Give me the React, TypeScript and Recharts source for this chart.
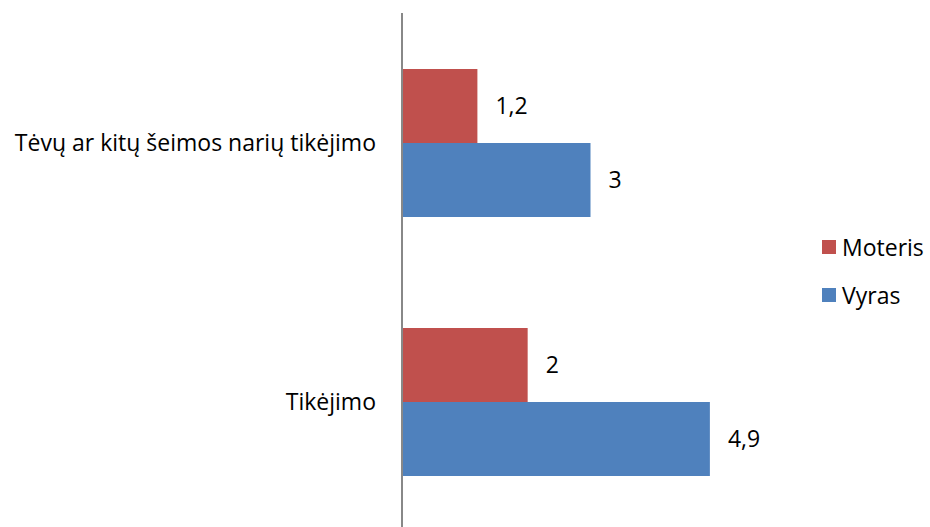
import { BarChart, Bar, XAxis, YAxis, LabelList } from "recharts";

const categories = ["Tėvų ar kitų šeimos narių tikėjimo", "Tikėjimo"];
const moteris = [1.2, 2];
const vyras = [3, 4.9];
const seriesNames = ["Moteris", "Vyras"];
const seriesColors = ["#C0504D", "#4F81BD"];

const data = categories.map((name, i) => ({
  name,
  Moteris: moteris[i],
  Vyras: vyras[i],
}));

const FONT = "'Open Sans', Lato, sans-serif";
const fmt = (v: any) => String(v).replace(".", ",");

const LegendBox = () => (
  <div
    style={{
      position: "absolute",
      left: 822,
      top: 223,
      fontFamily: FONT,
      fontSize: 23,
      color: "#000",
    }}
  >
    {seriesNames.map((label, i) => (
      <div key={label} style={{ display: "flex", alignItems: "center", height: 48 }}>
        <span
          style={{
            width: 14,
            height: 14,
            background: seriesColors[i],
            marginRight: 6,
            display: "inline-block",
          }}
        />
        {label}
      </div>
    ))}
  </div>
);

const App = () => {
  return (
    <div
      style={{
        position: "absolute",
        left: 0,
        top: 0,
        width: 930,
        height: 527,
        overflow: "hidden",
        background: "#fff",
      }}
    >
      <BarChart
        width={930}
        height={531}
        data={data}
        layout="vertical"
        margin={{ top: 13, right: 151, bottom: 0, left: 0 }}
        barCategoryGap="21.6%"
        barGap={0}
      >
        <XAxis type="number" domain={[0, 6]} hide />
        <YAxis
          type="category"
          dataKey="name"
          width={402}
          axisLine={{ stroke: "#888", strokeWidth: 2 }}
          tickLine={false}
          tickMargin={20}
          tick={{ fill: "#000", fontSize: 23, fontFamily: FONT }}
        />
        <Bar dataKey="Moteris" fill={seriesColors[0]} isAnimationActive={false}>
          <LabelList
            dataKey="Moteris"
            position="right"
            offset={18}
            formatter={fmt}
            style={{ fill: "#000", fontSize: 23, fontFamily: FONT }}
          />
        </Bar>
        <Bar dataKey="Vyras" fill={seriesColors[1]} isAnimationActive={false}>
          <LabelList
            dataKey="Vyras"
            position="right"
            offset={18}
            formatter={fmt}
            style={{ fill: "#000", fontSize: 23, fontFamily: FONT }}
          />
        </Bar>
      </BarChart>
      <LegendBox />
    </div>
  );
};

export default App;
